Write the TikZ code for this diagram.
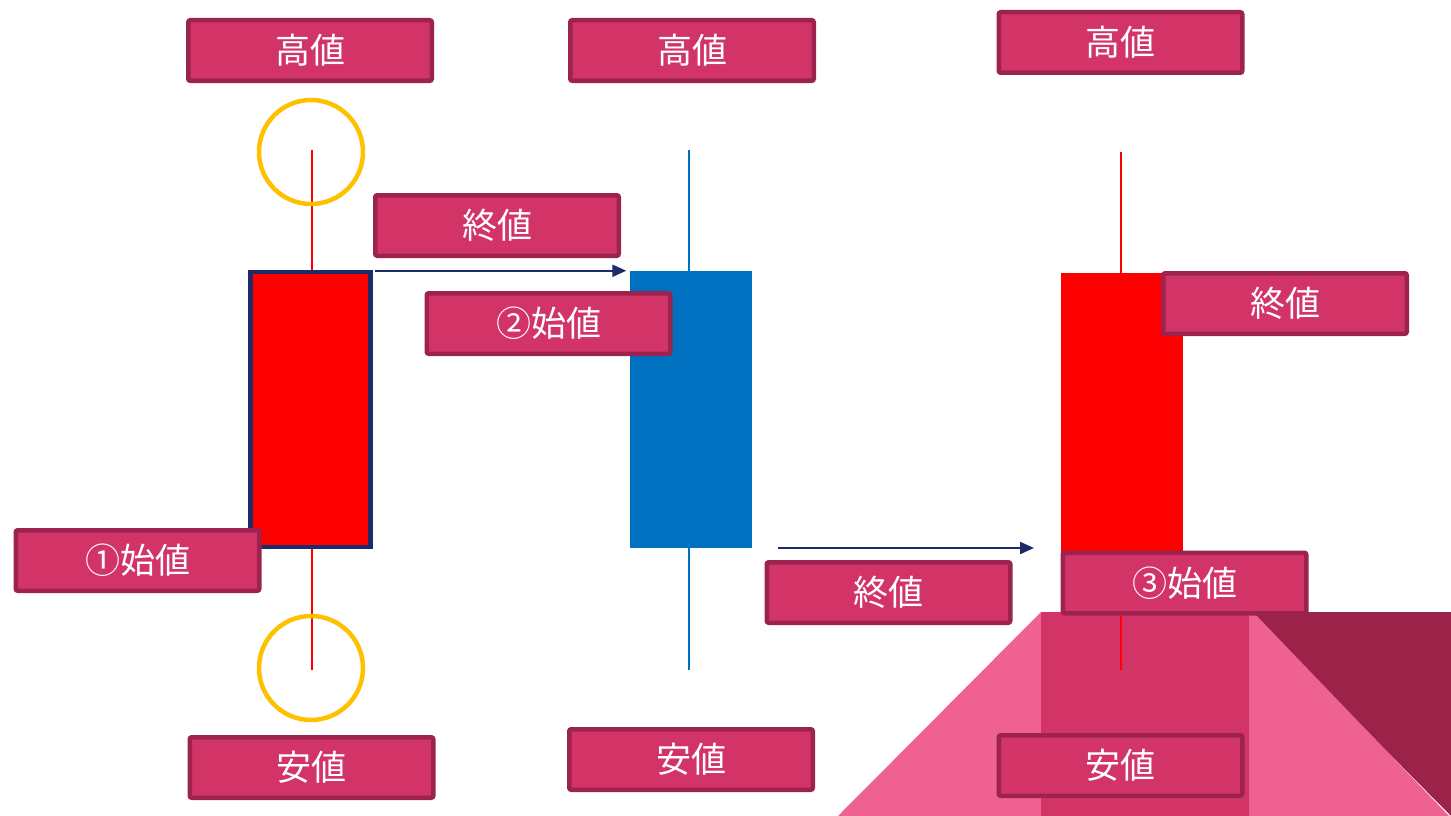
\documentclass[tikz,border=0pt]{standalone}
\usepackage{fontspec}
\newfontfamily\jpfont{Noto Sans CJK JP}
\usetikzlibrary{arrows.meta}
\definecolor{lblfill}{HTML}{D23467}
\definecolor{lbledge}{HTML}{9C2350}
\definecolor{lightpink}{HTML}{EF6190}
\definecolor{darkrose}{HTML}{9B2249}
\definecolor{navy}{HTML}{1F2A6B}
\definecolor{candleblue}{HTML}{0070C0}
\definecolor{ring}{HTML}{FFC000}
\tikzset{
  lbl/.style={draw=lbledge, fill=lblfill, line width=4.5pt, rounded corners=2pt,
    minimum width=243.5pt, minimum height=60.5pt, inner sep=0pt,
    text=white, font=\jpfont\fontsize{35}{40}\selectfont},
  body/.style={minimum width=122pt, inner sep=0pt},
  wick/.style={line width=1.5pt},
  ringc/.style={draw=ring, line width=4.5pt},
  arr/.style={draw=navy, line width=2.2pt, -{Triangle[length=14pt,width=12pt]}}
}
\begin{document}
\begin{tikzpicture}[x=1pt,y=-1pt]
\useasboundingbox (0,0) rectangle (1451,816);
% decoration bottom right
\fill[lightpink] (838,816) -- (1041,612) -- (1041,816) -- cycle;
\fill[darkrose] (1249,612) -- (1451,612) -- (1451,816) -- cycle;
\fill[lightpink] (1249,612) -- (1253,612) -- (1449,816) -- (1249,816) -- cycle;
\fill[lblfill] (1041,612) rectangle (1249,816);
% wicks
\draw[wick, red] (312,150) -- (312,670);
\draw[wick, candleblue] (689,150) -- (689,670);
\draw[wick, red] (1121,152) -- (1121,670);
% candle bodies
\node[body, draw=navy, line width=4.5pt, fill=red, minimum width=120pt, minimum height=275pt] (c1) at (310.5,409.5) {};
\node[body, fill=candleblue, minimum height=277pt] (c2) at (690.5,409.5) {};
\node[body, fill=red, minimum height=290pt] (c3) at (1122,418) {};
% rings
\node[ringc, circle, minimum size=104pt, inner sep=0pt] (r1) at (311,152) {};
\node[ringc, circle, minimum size=104pt, inner sep=0pt] (r2) at (311,668) {};
% arrows
\coordinate (a1s) at ([xshift=2pt,yshift=-1pt]c1.north east);
\coordinate (a1e) at ([xshift=-3pt]c2.west |- a1s);
\coordinate (a2s) at (778,548);
\coordinate (a2e) at (1034,548);
\draw[arr] (a1s) -- (a1e);
\draw[arr] (a2s) -- (a2e);
% labels
\node[lbl] (h1) at (310,50.5) {高値};
\node[lbl] (h2) at (692,50.5) {高値};
\node[lbl] (h3) at (1120.5,42.5) {高値};
\node[lbl] (e1) at (497,225.5) {終値};
\node[lbl] (o2) at (548.5,323.5) {②始値};
\node[lbl] (o1) at (137.5,560.5) {①始値};
\node[lbl] (e2) at (888.5,592.5) {終値};
\node[lbl] (e3) at (1285,303.5) {終値};
\node[lbl] (o3) at (1184.5,583) {③始値};
\node[lbl] (l1) at (311.5,767.5) {安値};
\node[lbl] (l2) at (691,759.5) {安値};
\node[lbl] (l3) at (1120.5,765.5) {安値};
\end{tikzpicture}
\end{document}
